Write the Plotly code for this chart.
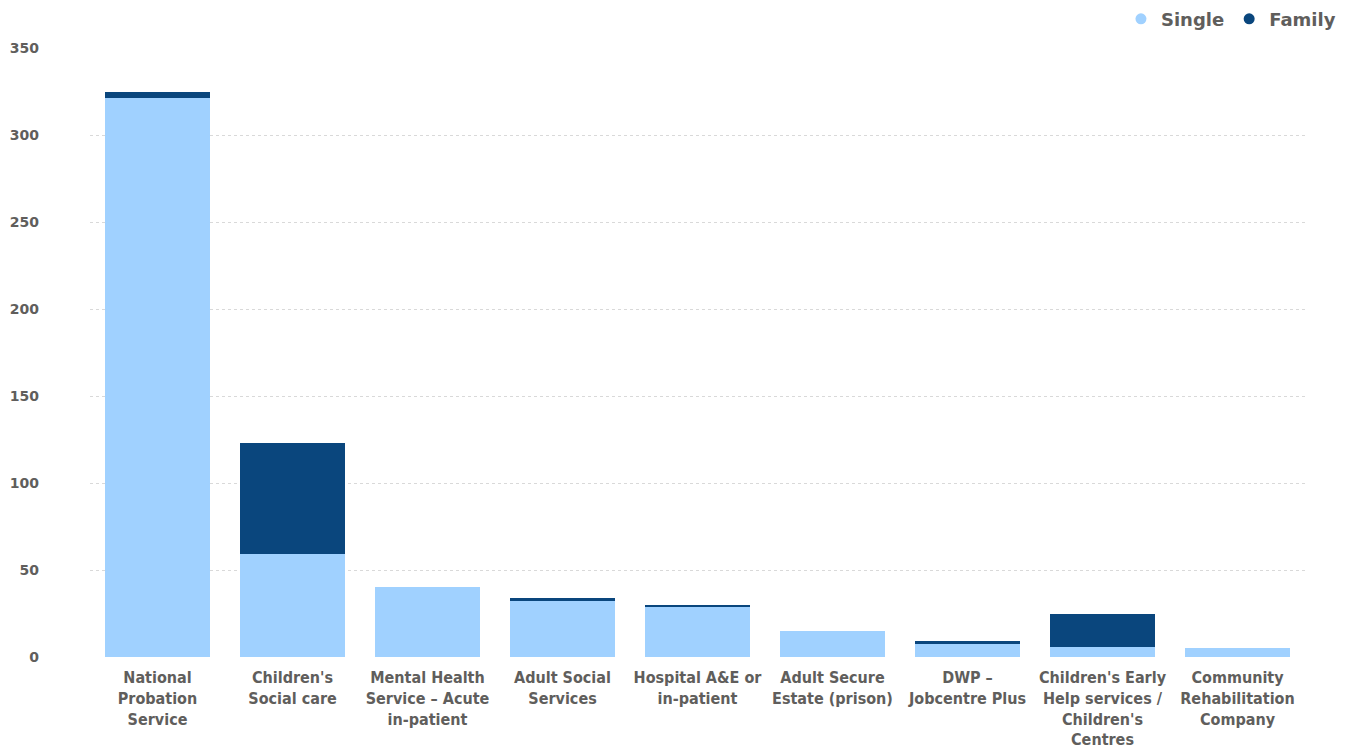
import plotly.graph_objects as go

categories = [
    "National<br>Probation<br>Service",
    "Children's<br>Social care",
    "Mental Health<br>Service – Acute<br>in-patient",
    "Adult Social<br>Services",
    "Hospital A&E or<br>in-patient",
    "Adult Secure<br>Estate (prison)",
    "DWP –<br>Jobcentre Plus",
    "Children's Early<br>Help services /<br>Children's<br>Centres",
    "Community<br>Rehabilitation<br>Company",
]
single = [321, 59, 40, 32, 29, 15, 8, 6, 5]
family = [4, 64, 0, 2, 1, 0, 1, 19, 0]
y_ticks = [0, 50, 100, 150, 200, 250, 300, 350]

LIGHT = "#A0D1FF"
DARK = "#0A467D"
GREY = "#605E5C"

fig = go.Figure()
fig.add_trace(go.Bar(x=categories, y=single, name="Single", marker_color=LIGHT,
                     showlegend=False, marker_line_width=0))
fig.add_trace(go.Bar(x=categories, y=family, name="Family", marker_color=DARK,
                     showlegend=False, marker_line_width=0))
# legend entries with circle markers
fig.add_trace(go.Scatter(x=[None], y=[None], mode="markers", name="Single",
                         marker=dict(color=LIGHT, size=11, symbol="circle")))
fig.add_trace(go.Scatter(x=[None], y=[None], mode="markers", name="Family",
                         marker=dict(color=DARK, size=11, symbol="circle")))

fig.update_layout(
    barmode="stack",
    bargap=0.22,
    width=1341, height=740,
    margin=dict(l=82, r=44, t=40, b=91, autoexpand=False),
    paper_bgcolor="white",
    plot_bgcolor="white",
    font=dict(family="Liberation Sans Narrow, DejaVu Sans Condensed, sans-serif", color=GREY),
    legend=dict(orientation="h", traceorder="normal",
                x=0.994, xref="container", xanchor="right",
                y=0.985, yref="container", yanchor="middle",
                font=dict(family="DejaVu Sans, sans-serif", size=18, color=GREY, weight="bold"),
                itemwidth=30, bgcolor="rgba(0,0,0,0)"),
    xaxis=dict(tickfont=dict(size=16, color=GREY, weight="bold",
                             family="Liberation Sans Narrow, DejaVu Sans Condensed, sans-serif"),
               showgrid=False, showline=False, ticks="", automargin=False,
               ticklabelstandoff=9),
    yaxis=dict(range=[0, 350], tickvals=y_ticks,
               tickfont=dict(size=14, color=GREY, weight="bold",
                             family="DejaVu Sans, sans-serif"),
               showgrid=True, gridcolor="#D9D9D9", griddash="dot", gridwidth=1,
               zeroline=False, showline=False, ticks="", ticklabelstandoff=50,
               automargin=False),
)
fig.write_html("out.html")
